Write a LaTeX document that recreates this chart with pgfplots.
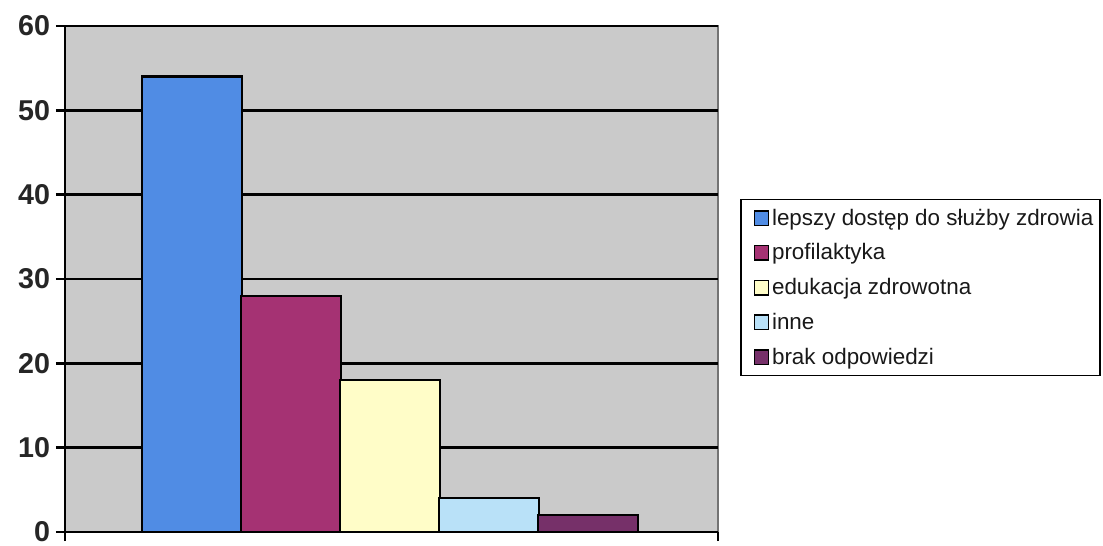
\documentclass[border=0pt]{standalone}
\usepackage{fontspec}
\setmainfont{Liberation Sans}
\usepackage{pgfplots}
\pgfplotsset{compat=1.18}
\definecolor{c1}{RGB}{80,140,228}
\definecolor{c2}{RGB}{165,50,115}
\definecolor{c3}{RGB}{255,253,200}
\definecolor{c4}{RGB}{185,225,248}
\definecolor{c5}{RGB}{118,48,105}
\definecolor{bg}{RGB}{202,202,202}
\pgfplotsset{
  mybar/.style={bar shift=0pt, fill=#1, draw=black, line width=1.8pt,
    legend image code/.code={\path (0pt,0pt); \draw[fill=#1, draw=black, line width=1.1pt] (6pt,-5.4pt) rectangle (16.8pt,5.4pt);}},
}
\begin{document}
\begin{tikzpicture}
\path[use as bounding box] (0pt,0pt) rectangle (827.25pt,409.5pt);
\begin{axis}[
  at={(48.75pt,10.5pt)}, anchor=south west,
  scale only axis, width=489.75pt, height=379.5pt,
  ybar, bar width=1.01,
  xmin=-3.283, xmax=3.313,
  ymin=0, ymax=60, ytick={0,10,...,60},
  xtick={-3.283,3.313}, xticklabels={},
  axis x line*=bottom, axis y line*=left,
  axis line style={-, black, line width=2pt},
  tick align=outside, major tick length=6.75pt,
  tick style={black, line width=1.8pt},
  ymajorgrids, major grid style={black, line width=1.8pt},
  axis background/.style={fill=bg, draw=black!55, line width=1pt},
  /pgf/number format/assume math mode=true,
  yticklabel style={font=\fontsize{21.5}{21.5}\selectfont\bfseries, text=black!85, xshift=-1pt},
  legend style={at={(1.034,0.483)}, anchor=west, draw=black, line width=1.3pt,
    fill=white, font=\fontsize{16.8}{18}\selectfont, text=black!90,
    legend cell align=left, row sep=8.4pt, inner xsep=3pt, inner ysep=5pt},
]
\addplot[mybar=c1] coordinates {(-2,54)};
\addplot[mybar=c2] coordinates {(-1,28)};
\addplot[mybar=c3] coordinates {(0,18)};
\addplot[mybar=c4] coordinates {(1,4)};
\addplot[mybar=c5] coordinates {(2,2)};
\legend{lepszy dostęp do służby zdrowia, profilaktyka, edukacja zdrowotna, inne, brak odpowiedzi}
\end{axis}
\end{tikzpicture}
\end{document}
